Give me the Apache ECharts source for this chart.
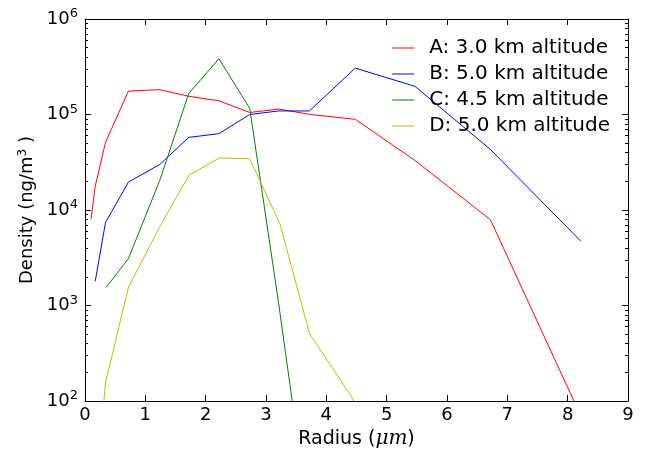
<!DOCTYPE html>
<html>
<head>
<meta charset="utf-8">
<script src="https://cdn.jsdelivr.net/npm/echarts@6/dist/echarts.min.js"></script>
<style>html,body{margin:0;padding:0;background:#fff;}#chart{width:648px;height:454px;}</style>
</head>
<body>
<div id="chart"></div>
<script>
// radius bins (um) and densities (ng/m^3)
var radiusA = [0.10, 0.17, 0.34, 0.72, 1.24, 1.72, 2.22, 2.73, 3.21, 3.74, 4.48, 5.47, 6.72, 8.24];
var densA   = [8000, 17800, 51000, 176000, 182000, 155000, 139000, 105000, 114000, 100000, 89000, 33000, 7900, 65];
var radiusB = [0.17, 0.34, 0.72, 1.24, 1.72, 2.22, 2.73, 3.21, 3.72, 4.48, 5.47, 6.72, 8.22];
var densB   = [1800, 7400, 19600, 30000, 57600, 63000, 100000, 109000, 109000, 306000, 197000, 43000, 4700];
var radiusC = [0.35, 0.72, 1.24, 1.72, 2.22, 2.73, 3.21, 3.72];
var densC   = [1550, 3100, 20500, 166000, 384000, 116000, 1050, 5];
var radiusD = [0.17, 0.34, 0.72, 1.24, 1.72, 2.22, 2.73, 3.23, 3.72, 4.48];
var densD   = [10, 155, 1550, 6700, 23000, 35000, 34400, 7200, 510, 97];
var names = ['A: 3.0 km altitude', 'B: 5.0 km altitude', 'C: 4.5 km altitude', 'D: 5.0 km altitude'];
var colors = ['#ff0000', '#0000ff', '#008000', '#bfbf00'];
var xTicks = [0, 1, 2, 3, 4, 5, 6, 7, 8, 9];
var yDecades = [2, 3, 4, 5, 6];   // 10^2 .. 10^6

function pairs(xs, ys){ var out=[]; for(var i=0;i<xs.length;i++) out.push([xs[i], ys[i]]); return out; }
var allX = [radiusA, radiusB, radiusC, radiusD], allY = [densA, densB, densC, densD];

// minor tick spots (2..9 inside each decade), in exponent units
var minorSpots = [];
for (var e=yDecades[0]; e<yDecades[yDecades.length-1]; e++)
    for (var k=2;k<10;k++) minorSpots.push(e+Math.log10(k));

var font = 'DejaVu Sans';
var series = [];
for (var i=0;i<4;i++){
    series.push({name:names[i],type:'line',data:pairs(allX[i],allY[i]),symbol:'none',clip:true,
        lineStyle:{color:colors[i],width:1},itemStyle:{color:colors[i]}});
}
var black = {color:'#000',width:1};
var majorTick = {show:true,inside:true,length:6,lineStyle:black};
var minorTick = {show:true,inside:true,length:3,lineStyle:black,customValues:minorSpots};
function deco(pos, tick, showLine){
    return {type:'value',position:pos,min:yDecades[0],max:yDecades[yDecades.length-1],interval:1,
        axisLine:{show:showLine,lineStyle:black},axisTick:tick,axisLabel:{show:false},splitLine:{show:false}};
}
var chart = echarts.init(document.getElementById('chart'));
chart.setOption({
    animation:false,
    textStyle:{fontFamily:font},
    grid:{left:85,right:20,top:19,bottom:46},
    legend:{orient:'vertical',right:33,top:33,itemGap:6,itemWidth:22,itemHeight:1,
        textStyle:{fontSize:20,color:'#000',fontFamily:font,padding:[0,0,0,10]},
        data:names.map(function(n,i){return {name:n,icon:'rect',itemStyle:{color:colors[i],borderWidth:0}};})},
    xAxis:[{type:'value',min:0,max:9,interval:1,
        name:'Radius ({it|μm})',nameLocation:'middle',nameGap:28,
        nameTextStyle:{fontSize:19,color:'#000',fontFamily:font,
            rich:{it:{fontSize:20,fontStyle:'italic',fontFamily:'DejaVu Serif'}}},
        axisLine:{lineStyle:black},axisTick:majorTick,splitLine:{show:false},
        axisLabel:{fontSize:18,color:'#000',margin:5,formatter:function(v){return xTicks.indexOf(v)>=0?String(v):'';}}},
        {type:'value',position:'top',min:0,max:9,interval:1,axisLine:{lineStyle:black},
        axisTick:majorTick,axisLabel:{show:false},splitLine:{show:false}}],
    yAxis:[{type:'log',logBase:10,min:100,max:1000000,
        name:'Density (ng/m{sup|3} )',nameLocation:'middle',nameGap:48,nameRotate:90,
        nameTextStyle:{fontSize:18,color:'#000',fontFamily:font,rich:{sup:{fontSize:12,verticalAlign:'top',padding:[0,0,8,0]}}},
        axisLine:{show:true,lineStyle:black},axisTick:majorTick,splitLine:{show:false},
        axisLabel:{color:'#000',fontSize:18,margin:7,
            formatter:function(v){return '10{e|'+Math.round(Math.log10(v))+'}';},
            rich:{e:{fontSize:13,verticalAlign:'top',padding:[0,0,10,0]}}}},
        deco('left', minorTick, false),
        deco('right', majorTick, true),
        deco('right', minorTick, false)],
    series:series
});
</script>
</body>
</html>
